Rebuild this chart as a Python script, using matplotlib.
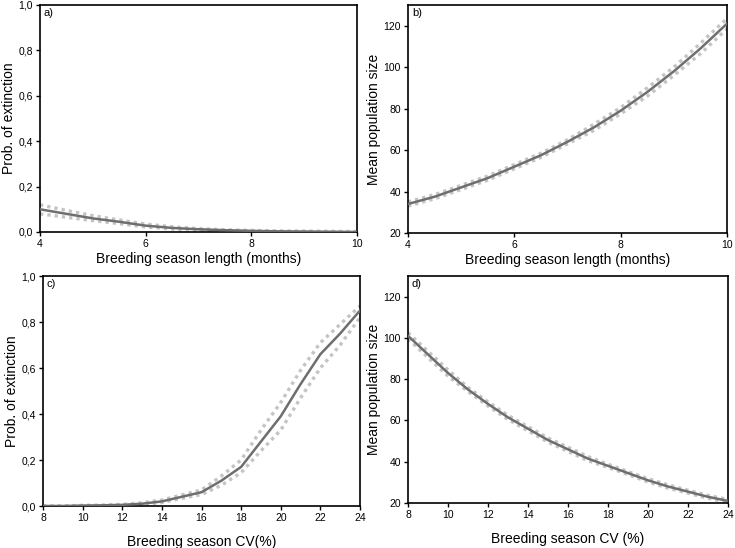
import matplotlib.pyplot as plt

plt.rcParams['font.family'] = ['Liberation Sans', 'DejaVu Sans']

# panel a / b: breeding season length (months)
length_x = [4, 4.5, 5, 5.5, 6, 6.5, 7, 7.5, 8, 8.5, 9, 9.5, 10]
ext_len_mean = [0.10, 0.08, 0.06, 0.045, 0.028, 0.018, 0.012, 0.008, 0.005, 0.003, 0.002, 0.001, 0.0]
ext_len_hi = [0.12, 0.095, 0.072, 0.053, 0.035, 0.023, 0.015, 0.01, 0.007, 0.005, 0.004, 0.003, 0.002]
ext_len_lo = [0.08, 0.065, 0.05, 0.037, 0.022, 0.013, 0.008, 0.005, 0.003, 0.001, 0.0, 0.0, 0.0]
pop_len_mean = [34, 37.5, 42, 46.5, 52, 57.5, 64, 71, 79, 88, 98, 109, 121]
pop_len_hi = [35, 38.5, 43, 47.5, 53, 58.5, 65, 72.5, 80.5, 90, 100, 111.5, 123.5]
pop_len_lo = [33, 36.5, 41, 45.5, 51, 56.5, 63, 69.5, 77.5, 86, 96, 106.5, 118.5]

# panel c / d: breeding season CV (%)
cv_x = [8, 9, 10, 11, 12, 13, 14, 15, 16, 17, 18, 19, 20, 21, 22, 23, 24]
ext_cv_mean = [0.0, 0.0, 0.002, 0.003, 0.005, 0.01, 0.02, 0.04, 0.06, 0.11, 0.17, 0.28, 0.39, 0.53, 0.66, 0.75, 0.85]
ext_cv_hi = [0.0, 0.0, 0.003, 0.004, 0.007, 0.014, 0.026, 0.048, 0.07, 0.13, 0.2, 0.33, 0.45, 0.59, 0.71, 0.79, 0.87]
ext_cv_lo = [0.0, 0.0, 0.001, 0.002, 0.003, 0.007, 0.015, 0.033, 0.05, 0.09, 0.145, 0.24, 0.33, 0.47, 0.6, 0.7, 0.82]
pop_cv_mean = [101, 92, 83, 75, 68, 61.5, 56, 50.5, 46, 41.5, 38, 34.5, 31, 28, 25.5, 23, 21]
pop_cv_hi = [102.5, 93.5, 84.5, 76, 69, 62.5, 57, 51.5, 47, 42.5, 38.8, 35.2, 31.8, 28.8, 26.2, 23.7, 21.7]
pop_cv_lo = [99.5, 90.5, 81.5, 74, 67, 60.5, 55, 49.5, 45, 40.5, 37.2, 33.8, 30.2, 27.2, 24.8, 22.3, 20.3]

fig = plt.figure(figsize=(7.35, 5.48), dpi=100)
W, H = 735, 548


def make_ax(x0, y0, x1, y1):
    return fig.add_axes([x0 / W, 1 - y1 / H, (x1 - x0) / W, (y1 - y0) / H])


def comma(v, pos):
    return f"{v:.1f}".replace('.', ',')


panels = [
    (make_ax(40, 5, 357, 232), length_x, ext_len_mean, ext_len_hi, ext_len_lo,
     (4, 10), (0, 1.0), [4, 6, 8, 10], [0, 0.2, 0.4, 0.6, 0.8, 1.0],
     'Breeding season length (months)', 'Prob. of extinction', 'a)', 2),
    (make_ax(408, 5, 727, 233), length_x, pop_len_mean, pop_len_hi, pop_len_lo,
     (4, 10), (20, 130), [4, 6, 8, 10], [20, 40, 60, 80, 100, 120],
     'Breeding season length (months)', 'Mean population size', 'b)', 2),
    (make_ax(43, 276, 360, 506), cv_x, ext_cv_mean, ext_cv_hi, ext_cv_lo,
     (8, 24), (0, 1.0), list(range(8, 25, 2)), [0, 0.2, 0.4, 0.6, 0.8, 1.0],
     'Breeding season CV(%)', 'Prob. of extinction', 'c)', 9),
    (make_ax(408, 276, 728, 503), cv_x, pop_cv_mean, pop_cv_hi, pop_cv_lo,
     (8, 24), (20, 130), list(range(8, 25, 2)), [20, 40, 60, 80, 100, 120],
     'Breeding season CV (%)', 'Mean population size', 'd)', 9),
]

for ax, x, mean, hi, lo, xl, yl, xt, yt, xlab, ylab, tag, xpad in panels:
    ax.plot(x, hi, color='#c4c4c4', lw=2.4, ls=(0, (1, 1.2)), zorder=2)
    ax.plot(x, lo, color='#c4c4c4', lw=2.4, ls=(0, (1, 1.2)), zorder=2)
    ax.plot(x, mean, color='#6e6e6e', lw=1.8, zorder=3)
    ax.set_xlim(*xl)
    ax.set_ylim(*yl)
    ax.set_xticks(xt)
    ax.set_yticks(yt)
    if yl[1] == 1.0:
        ax.yaxis.set_major_formatter(plt.FuncFormatter(comma))
    ax.tick_params(direction='out', length=3, width=1, labelsize=7.5, pad=2)
    for s in ax.spines.values():
        s.set_linewidth(1.2)
    ax.set_xlabel(xlab, fontsize=10, labelpad=xpad)
    ax.set_ylabel(ylab, fontsize=10, labelpad=2)
    ax.text(0.012, 0.985, tag, transform=ax.transAxes, fontsize=8, va='top', ha='left')

fig.savefig('out.png', dpi=100)
